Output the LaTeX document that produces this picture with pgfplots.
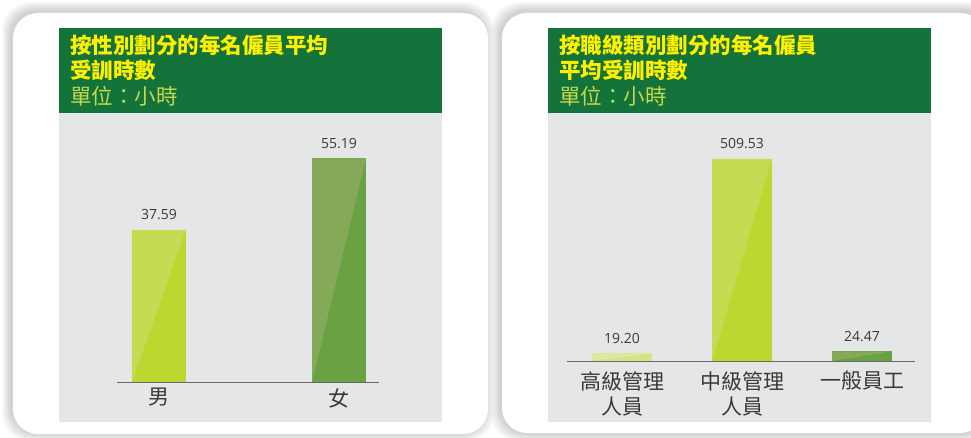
\documentclass[border=0pt]{standalone}
\usepackage{pgfplots}
\pgfplotsset{compat=1.18}
\usepackage{fontspec}
\newfontfamily\cjk{Noto Sans CJK TC}
\newfontfamily\numf{Open Sans}
\definecolor{hdrgreen}{HTML}{13733A}
\definecolor{ttlyellow}{HTML}{FFF000}
\definecolor{unitcol}{HTML}{C5D84A}
\definecolor{plotgrey}{HTML}{E5E6E8}
\definecolor{axisgrey}{HTML}{6A6A6A}
\definecolor{txtgrey}{HTML}{3A3A3A}
\definecolor{lime}{HTML}{BED630}
\definecolor{limeL}{HTML}{C6DA52}
\definecolor{grn}{HTML}{6AA142}
\definecolor{grnL}{HTML}{84AA59}
\definecolor{pale}{HTML}{D6E38A}
\definecolor{paleL}{HTML}{DEE8A0}
\pgfplotsset{
  panel/.style={
    scale only axis, anchor=south west, ymin=0,
    axis x line*=bottom, axis y line=none,
    major tick length=0pt, clip=false,
    x axis line style={draw=axisgrey, line width=1pt},
    xticklabel style={font=\cjk\fontsize{21}{25}\selectfont, text=txtgrey,
      anchor=north, inner sep=0pt, align=center},
  },
  valbar/.style={ybar, bar shift=0pt, draw=none,
    nodes near coords={\pgfmathprintnumber[fixed,fixed zerofill,precision=2,assume math mode=true]{\pgfplotspointmeta}},
    every node near coord/.append style={font=\numf\fontsize{14}{16}\selectfont, text=txtgrey, anchor=base, yshift=10pt, inner sep=0pt},
  },
}
\begin{document}
\begin{tikzpicture}[x=1pt,y=1pt]
\path[use as bounding box] (0,0) rectangle (971,437);
\begin{scope}
\clip (0,0) rectangle (971,437);
\fill[white] (0,0) rectangle (971,437);
% shadows
\foreach \d in {9,8,7,6,5,4,3,2,1}{
  \fill[black,opacity=0.02,rounded corners=28pt] (13-\d-2,3-\d+1) rectangle (488+\d-3,424+\d+2);
  \fill[black,opacity=0.02,rounded corners=28pt] (502-\d-2,3-\d+1) rectangle (990+\d,424+\d+2);
}
% cards
\fill[white,rounded corners=25pt] (13,3) rectangle (488,424);
\fill[white,rounded corners=25pt] (502,4) rectangle (985,424);
% panel 1 background
\fill[hdrgreen] (59,324) rectangle (442,409);
\fill[plotgrey] (59,15) rectangle (442,324);
\node[anchor=base west,inner sep=0pt,text=ttlyellow,font=\cjk\bfseries\fontsize{21.5}{25}\selectfont] at (70,437-53.5) {按性別劃分的每名僱員平均};
\node[anchor=base west,inner sep=0pt,text=ttlyellow,font=\cjk\bfseries\fontsize{21.5}{25}\selectfont] at (70,437-78.5) {受訓時數};
\node[anchor=base west,inner sep=0pt,text=unitcol,font=\cjk\fontsize{21.5}{25}\selectfont] at (70,437-104.5) {單位：小時};
% panel 2 background
\fill[hdrgreen] (548,324) rectangle (931,409);
\fill[plotgrey] (548,15) rectangle (931,324);
\node[anchor=base west,inner sep=0pt,text=ttlyellow,font=\cjk\bfseries\fontsize{21.5}{25}\selectfont] at (559,437-53.5) {按職級類別劃分的每名僱員};
\node[anchor=base west,inner sep=0pt,text=ttlyellow,font=\cjk\bfseries\fontsize{21.5}{25}\selectfont] at (559,437-78.5) {平均受訓時數};
\node[anchor=base west,inner sep=0pt,text=unitcol,font=\cjk\fontsize{21.5}{25}\selectfont] at (559,437-104.5) {單位：小時};

% axis 1
\begin{axis}[panel, at={(117pt,55pt)}, width=262pt, height=269pt,
  xmin=-0.2333, xmax=1.2222, ymax=66.42,
  xtick={0,1}, xticklabels={男,女},
  xticklabel style={yshift=-6pt}]
\addplot[valbar, bar width=0.3, fill=lime] coordinates {(0,37.59)};
\addplot[fill=limeL, draw=none] coordinates {(-0.15,0) (-0.15,37.59) (0.15,37.59)} -- cycle;
\addplot[valbar, bar width=0.3, fill=grn] coordinates {(1,55.19)};
\addplot[fill=grnL, draw=none] coordinates {(0.85,0) (0.85,55.19) (1.15,55.19)} -- cycle;
\end{axis}

% axis 2
\begin{axis}[panel, at={(567pt,76pt)}, width=348pt, height=248pt,
  xmin=-0.4583, xmax=2.4417, ymax=625.5,
  xtick={0,1,2}, xticklabels={{高級管理\\人員},{中級管理\\人員},{一般員工}},
  xticklabel style={yshift=-10pt}]
\addplot[valbar, bar width=0.5, fill=pale] coordinates {(0,19.20)};
\addplot[fill=paleL, draw=none] coordinates {(-0.25,0) (-0.25,19.20) (0.25,19.20)} -- cycle;
\addplot[valbar, bar width=0.5, fill=lime] coordinates {(1,509.53)};
\addplot[fill=limeL, draw=none] coordinates {(0.75,0) (0.75,509.53) (1.25,509.53)} -- cycle;
\addplot[valbar, bar width=0.5, fill=grn] coordinates {(2,24.47)};
\addplot[fill=grnL, draw=none] coordinates {(1.75,0) (1.75,24.47) (2.25,24.47)} -- cycle;
\end{axis}
\end{scope}
\end{tikzpicture}
\end{document}
